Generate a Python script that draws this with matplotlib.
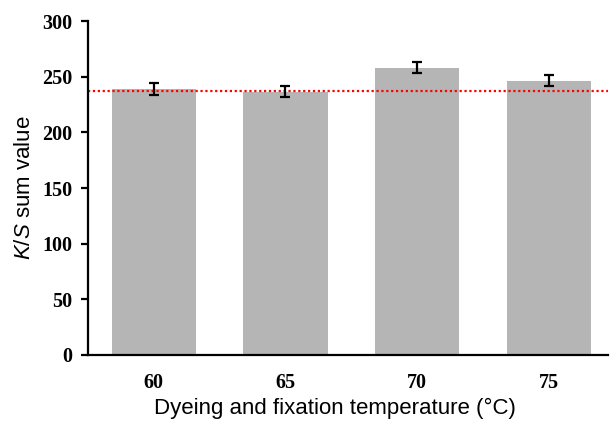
import numpy as np
import matplotlib.pyplot as plt

temps = ["60", "65", "70", "75"]
ks_sum = [239, 236.5, 258, 246.5]
ks_err = [5, 5, 5, 5]
reference_ks = 237.5

plt.rcParams["mathtext.fontset"] = "custom"
plt.rcParams["mathtext.rm"] = "Liberation Sans"
plt.rcParams["mathtext.it"] = "Liberation Sans:italic"

fig, ax = plt.subplots(figsize=(6.1, 4.23), dpi=100)
fig.subplots_adjust(left=0.144, right=0.997, bottom=0.161, top=0.950)

x = np.arange(len(temps))
ax.bar(x, ks_sum, width=0.64, color="#b5b5b5", zorder=1)
ax.errorbar(x, ks_sum, yerr=ks_err, fmt="none", ecolor="black",
            elinewidth=1.6, capsize=3.5, capthick=1.6, zorder=3)
ax.axhline(reference_ks, color="red", linestyle=(0, (1, 1.2)), linewidth=1.6, zorder=2)

ax.set_xlim(-0.5, 3.45)
ax.set_ylim(0, 300)
ax.set_yticks(range(0, 301, 50))
ax.set_xticks(x)
ax.set_xticklabels(temps)

for side in ("top", "right"):
    ax.spines[side].set_visible(False)
for side in ("left", "bottom"):
    ax.spines[side].set_linewidth(1.6)

ax.tick_params(axis="y", direction="out", length=5, width=1.6, pad=6)
ax.tick_params(axis="x", length=0, pad=13)
for lbl in ax.get_xticklabels() + ax.get_yticklabels():
    lbl.set_fontfamily("Liberation Serif")
    lbl.set_fontweight("bold")
    lbl.set_fontsize(14.5)

ax.set_xlabel("Dyeing and fixation temperature (\u00b0C)",
              fontfamily="Liberation Sans", fontsize=16)
ax.xaxis.set_label_coords(0.475, -0.13)
ax.set_ylabel("$\\it{K/S}$ sum value", fontfamily="Liberation Sans",
              fontsize=16, labelpad=5)

fig.savefig("out.png", dpi=100)
